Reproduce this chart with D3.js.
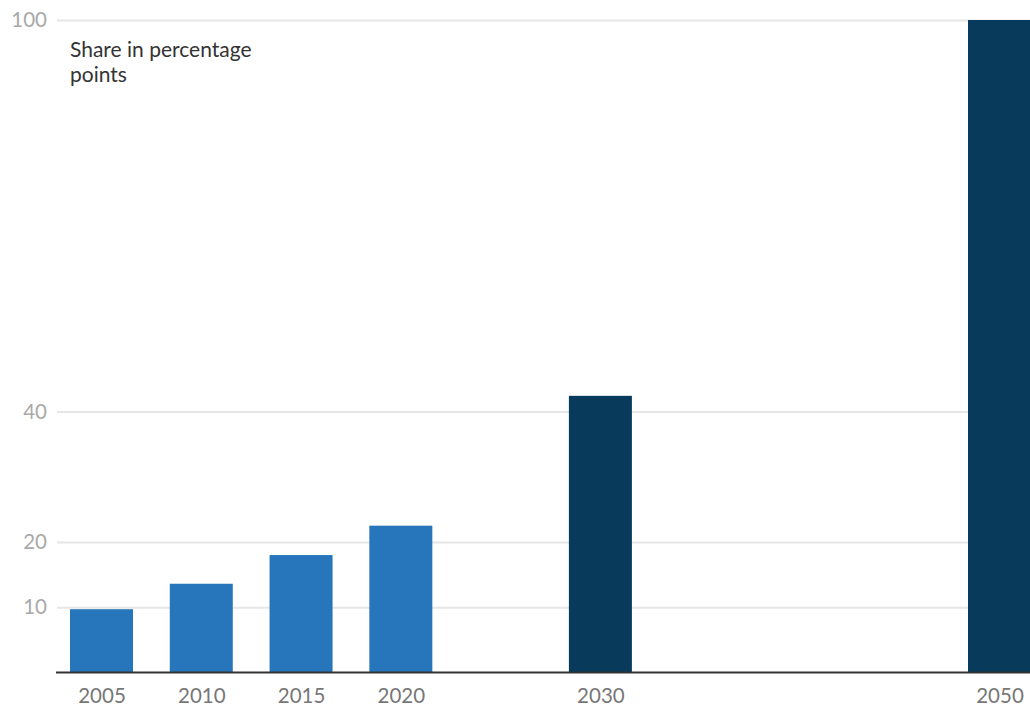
<!DOCTYPE html>
<html>
<head>
<meta charset="utf-8">
<style>
  body { margin: 0; background: #fff; }
  svg { display: block; font-family: Lato, "Open Sans", sans-serif; }
</style>
</head>
<body>
<svg width="1030" height="706"></svg>
<script src="https://d3js.org/d3.v7.min.js"></script>
<script>
var years = [2005, 2010, 2015, 2020, 2030, 2050];
var shares = [9.7, 13.6, 18.0, 22.5, 42.4, 100];
var projected = [false, false, false, false, true, true];
var yTicks = [10, 20, 40, 100];
var titleLines = ["Share in percentage", "points"];

var svg = d3.select("svg"),
    width = 1030,
    height = 706;

var x = d3.scaleLinear().domain([2005, 2050]).range([101.5, 999.5]);
var y = d3.scaleLinear().domain([0, 100]).range([672.5, 20]);
var barW = 63;

// gridlines + y labels
var yAxis = d3.axisLeft(y)
    .tickValues(yTicks)
    .tickSize(-(width - 57))
    .tickPadding(10)
    .tickFormat(d3.format("d"));

svg.append("g")
    .attr("transform", "translate(57,0)")
    .call(yAxis)
    .call(function(g) {
        g.select(".domain").remove();
        g.selectAll(".tick line").attr("stroke", "#e6e6e6").attr("stroke-width", 2);
        g.selectAll(".tick text")
            .attr("fill", "#a9a9a9")
            .attr("font-size", 20.5)
            .attr("font-family", "Lato, sans-serif");
    });

// bars
svg.append("g")
    .selectAll("rect")
    .data(years)
    .join("rect")
    .attr("x", function(d) { return x(d) - barW / 2; })
    .attr("width", barW)
    .attr("y", function(d, i) { return y(shares[i]); })
    .attr("height", function(d, i) { return y(0) - y(shares[i]); })
    .attr("fill", function(d, i) { return projected[i] ? "#083a5c" : "#2776bb"; });

// baseline + x labels
var xAxis = d3.axisBottom(x)
    .tickValues(years)
    .tickSize(0)
    .tickPadding(16)
    .tickFormat(d3.format("d"));

svg.append("g")
    .attr("transform", "translate(0," + y(0) + ")")
    .call(xAxis)
    .call(function(g) {
        g.select(".domain").remove();
        g.selectAll(".tick text")
            .attr("fill", "#777")
            .attr("font-size", 20.5)
            .attr("font-family", "Lato, sans-serif");
    });

svg.append("line")
    .attr("x1", 56).attr("x2", width)
    .attr("y1", y(0)).attr("y2", y(0))
    .attr("stroke", "#333")
    .attr("stroke-width", 2);

// title
svg.append("text")
    .attr("x", 70)
    .attr("y", 57)
    .attr("fill", "#333")
    .attr("font-size", 21)
    .selectAll("tspan")
    .data(titleLines)
    .join("tspan")
    .attr("x", 70)
    .attr("dy", function(d, i) { return i ? 25 : 0; })
    .text(function(d) { return d; });
</script>
</body>
</html>
